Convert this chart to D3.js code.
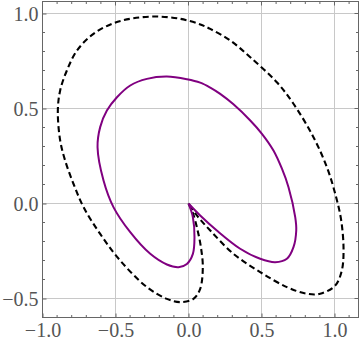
<!DOCTYPE html>
<html><head><meta charset="utf-8">
<script src="https://cdn.jsdelivr.net/npm/d3@7"></script>
<style>html,body{margin:0;padding:0;background:#fff;}svg{display:block;}</style>
</head><body>
<script>
const purpleX = [0,0.030,0.041,0.030,-0.011,-0.068,-0.148,-0.262,-0.399,-0.514,-0.582,-0.623,-0.605,-0.559,-0.490,-0.399,-0.285,-0.148,-0.011,0.080,0.149,0.217,0.308,0.423,0.503,0.582,0.640,0.685,0.731,0.738,0.719,0.674,0.594,0.491,0.354,0.194,0.080,0];
const purpleY = [0,-0.072,-0.177,-0.265,-0.318,-0.335,-0.321,-0.265,-0.151,-0.019,0.121,0.296,0.402,0.489,0.559,0.621,0.656,0.668,0.654,0.636,0.610,0.577,0.522,0.437,0.367,0.279,0.183,0.086,-0.072,-0.142,-0.230,-0.291,-0.309,-0.291,-0.238,-0.142,-0.063,0];
const dashedX = [0,0.030,0.062,0.085,0.098,0.080,0.034,-0.057,-0.148,-0.285,-0.468,-0.605,-0.719,-0.788,-0.845,-0.879,-0.895,-0.879,-0.833,-0.764,-0.651,-0.514,-0.377,-0.217,-0.057,0.068,0.149,0.286,0.423,0.605,0.719,0.856,0.948,1.005,1.046,1.062,1.050,1.005,0.902,0.811,0.674,0.491,0.308,0.149,0.057,0];
const dashedY = [0,-0.050,-0.140,-0.230,-0.335,-0.449,-0.502,-0.519,-0.502,-0.440,-0.300,-0.160,-0.019,0.104,0.226,0.332,0.489,0.595,0.700,0.805,0.893,0.949,0.975,0.984,0.972,0.946,0.919,0.858,0.770,0.638,0.525,0.349,0.191,0.051,-0.089,-0.247,-0.353,-0.432,-0.475,-0.475,-0.440,-0.361,-0.265,-0.142,-0.063,0];
const xMajor = [-1.0,-0.5,0.0,0.5,1.0];
const yMajor = [-0.5,0.0,0.5,1.0];
const xLabels = ["\u22121.0","\u22120.5","0.0","0.5","1.0"];
const yLabels = ["\u22120.5","0.0","0.5","1.0"];

const W=360,H=341;
const x = d3.scaleLinear().domain([-1,1.1644]).range([42.5,358.5]);
const y = d3.scaleLinear().domain([-0.6,1.0632]).range([317.5,1.5]);
const svg = d3.select("body").append("svg").attr("width",W).attr("height",H);

const xMinor = d3.range(-10,12).map(d=>d/10).filter(v=>!xMajor.some(m=>Math.abs(m-v)<1e-9));
const yMinor = d3.range(-6,11).map(d=>d/10).filter(v=>!yMajor.some(m=>Math.abs(m-v)<1e-9));

// grid
const g = svg.append("g").attr("stroke","#c8c8c8").attr("stroke-width",1);
xMajor.forEach(v=>g.append("line").attr("x1",x(v)).attr("x2",x(v)).attr("y1",y.range()[0]).attr("y2",y.range()[1]));
yMajor.forEach(v=>g.append("line").attr("y1",y(v)).attr("y2",y(v)).attr("x1",x.range()[0]).attr("x2",x.range()[1]));

// curves
const line = d3.line().x(d=>x(d[0])).y(d=>y(d[1])).curve(d3.curveCatmullRom.alpha(0.5));
const dashedPts = dashedX.map((v,i)=>[v,dashedY[i]]);
const purplePts = purpleX.map((v,i)=>[v,purpleY[i]]);
svg.append("path").attr("d",line(dashedPts)).attr("fill","none").attr("stroke","#000").attr("stroke-width",2.1).attr("stroke-dasharray","6,3.5");
svg.append("path").attr("d",line(purplePts)).attr("fill","none").attr("stroke","#800080").attr("stroke-width",2);

// frame
const fc="#666";
svg.append("rect").attr("x",x.range()[0]).attr("y",y.range()[1]).attr("width",x.range()[1]-x.range()[0]).attr("height",y.range()[0]-y.range()[1]).attr("fill","none").attr("stroke",fc).attr("stroke-width",1);

// ticks
const axB = d3.axisBottom(x).tickValues(xMajor).tickSize(-4).tickFormat((d,i)=>xLabels[i]).tickSizeOuter(0);
const axL = d3.axisLeft(y).tickValues(yMajor).tickSize(-4).tickFormat((d,i)=>yLabels[i]).tickSizeOuter(0);
const bg = svg.append("g").attr("transform",`translate(0,${y.range()[0]})`).call(axB);
const lg = svg.append("g").attr("transform",`translate(${x.range()[0]},0)`).call(axL);
[bg,lg].forEach(a=>{a.select(".domain").remove();a.selectAll("line").attr("stroke",fc);a.selectAll("text").attr("font-family","Liberation Serif, serif").attr("font-size",20).attr("fill","#555");});
bg.selectAll("text").attr("dy",null).attr("y",19);
lg.selectAll("text").attr("x",-4).attr("dy","0.33em");
// minor ticks and top/right ticks
const t = svg.append("g").attr("stroke",fc).attr("stroke-width",1);
const x0=x.range()[0],x1=x.range()[1],y0=y.range()[0],y1=y.range()[1];
xMinor.forEach(v=>{t.append("line").attr("x1",x(v)).attr("x2",x(v)).attr("y1",y0).attr("y2",y0-2.5);t.append("line").attr("x1",x(v)).attr("x2",x(v)).attr("y1",y1).attr("y2",y1+2.5);});
xMajor.forEach(v=>{t.append("line").attr("x1",x(v)).attr("x2",x(v)).attr("y1",y1).attr("y2",y1+4);});
yMinor.forEach(v=>{t.append("line").attr("y1",y(v)).attr("y2",y(v)).attr("x1",x0).attr("x2",x0+2.5);t.append("line").attr("y1",y(v)).attr("y2",y(v)).attr("x1",x1).attr("x2",x1-2.5);});
yMajor.forEach(v=>{t.append("line").attr("y1",y(v)).attr("y2",y(v)).attr("x1",x1).attr("x2",x1-4);});
</script>
</body></html>
